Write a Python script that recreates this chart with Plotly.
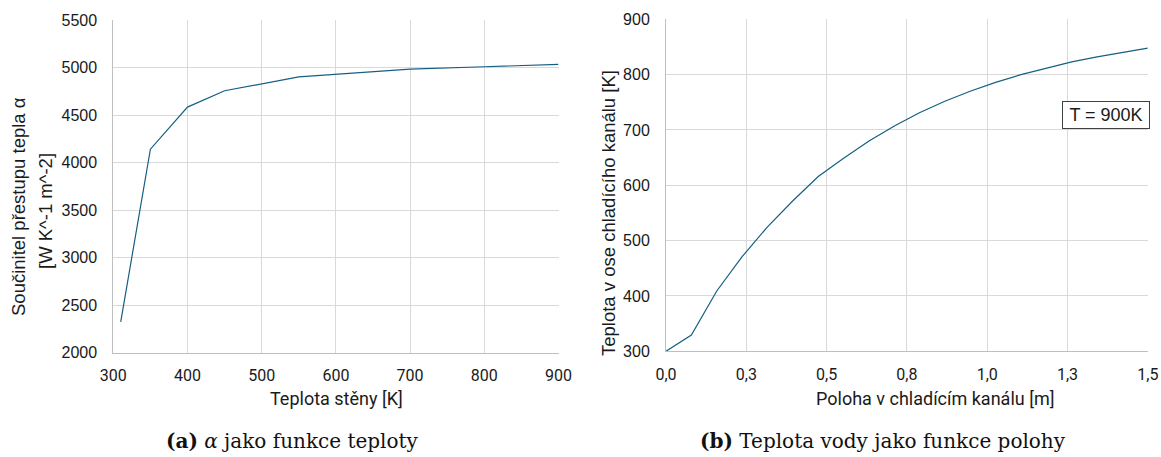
import plotly.graph_objects as go

# Left chart: heat transfer coefficient vs wall temperature
wall_temp = [310, 350, 400, 450, 550, 600, 700, 800, 900]
alpha_vals = [2325, 4142, 4585, 4757, 4903, 4932, 4985, 5010, 5035]

# Right chart: water temperature vs position
position = [0.0, 0.079, 0.158, 0.237, 0.316, 0.395, 0.474, 0.553, 0.632, 0.711,
            0.789, 0.868, 0.947, 1.026, 1.105, 1.184, 1.263, 1.342, 1.421, 1.5]
water_temp = [300, 329.5, 409, 471, 525, 572, 616, 649, 680, 707,
              731, 752, 770, 786, 800, 812, 823, 832, 840, 848]

left_xticks = [300, 400, 500, 600, 700, 800, 900]
left_yticks = [2000, 2500, 3000, 3500, 4000, 4500, 5000, 5500]
right_xticks = [0.0, 0.25, 0.5, 0.75, 1.0, 1.25, 1.5]
right_xticktext = ["0,0", "0,3", "0,5", "0,8", "1,0", "1,3", "1,5"]
right_yticks = [300, 400, 500, 600, 700, 800, 900]

W, H = 1161, 457
LINE = "#156082"
GRID = "#d9d9d9"
AXL = "#bfbfbf"
TXT = "#1a1a1a"

fig = go.Figure()
fig.add_trace(go.Scatter(x=wall_temp, y=alpha_vals, mode="lines",
                         line=dict(color=LINE, width=1.2), xaxis="x", yaxis="y",
                         showlegend=False))
fig.add_trace(go.Scatter(x=position, y=water_temp, mode="lines",
                         line=dict(color=LINE, width=1.2), xaxis="x2", yaxis="y2",
                         showlegend=False))

def px(x):
    return x / W

def py(y):
    return 1 - y / H

ydom = [py(352.7), py(20.2)]
ydom2 = [py(351.3), py(19.3)]

tickfont_y = dict(family="Liberation Sans, Arial", size=16, color=TXT)
tickfont_x = dict(family="Roboto, Arial", size=16, color=TXT)

common = dict(showgrid=True, gridcolor=GRID, gridwidth=1, showline=True,
              linecolor=AXL, linewidth=1, ticks="", zeroline=False,
              automargin=False)

fig.update_layout(
    width=W, height=H,
    margin=dict(l=0, r=0, t=0, b=0),
    paper_bgcolor="white", plot_bgcolor="white",
    xaxis=dict(domain=[px(113.3), px(558.5)], range=[300, 900], tickvals=left_xticks,
               tickfont=tickfont_x, anchor="y", ticklabelstandoff=8, **common),
    yaxis=dict(domain=ydom, range=[2000, 5500], tickvals=left_yticks,
               tickfont=tickfont_y, anchor="x", ticklabelstandoff=12, **common),
    xaxis2=dict(domain=[px(666), px(1147.8)], range=[0, 1.5], tickvals=right_xticks,
                ticktext=right_xticktext, tickfont=tickfont_x, anchor="y2",
                ticklabelstandoff=8, **common),
    yaxis2=dict(domain=ydom2, range=[300, 900], tickvals=right_yticks,
                tickfont=tickfont_y, anchor="x2", ticklabelstandoff=12, **common),
)

def note(text, x, y, font, **kw):
    d = dict(text=text, x=px(x), y=py(y), xref="paper", yref="paper",
             xanchor="center", yanchor="middle", showarrow=False, font=font)
    d.update(kw)
    return d

sans_title = dict(family="Roboto, Arial", size=18, color=TXT)
ytitle = dict(family="Liberation Sans, Arial", size=18.5, color=TXT)
serif = dict(family="DejaVu Serif, Liberation Serif", size=20, color="#111")

ann = [
    note("Teplota stěny [K]", 336, 398, sans_title),
    note("Poloha v chladícím kanálu [m]", 935, 398, sans_title),
    note("Součinitel přestupu tepla α", 18, 207, ytitle, textangle=-90),
    note("[W K^-1 m^-2]", 45, 211, ytitle, textangle=-90),
    note("Teplota v ose chladícího kanálu [K]", 608, 213, ytitle, textangle=-90),
    note("T = 900K", 1105.5, 115, dict(family="Liberation Sans, Arial", size=18, color=TXT),
         bordercolor="#404040", borderwidth=1, borderpad=3, bgcolor="white", width=80),
    note("<b>(a)</b> <i>α</i> jako funkce teploty", 292, 441, serif),
    note("<b>(b)</b> Teplota vody jako funkce polohy", 883, 441, serif),
]
fig.update_layout(annotations=ann)

fig.write_html("out.html")
